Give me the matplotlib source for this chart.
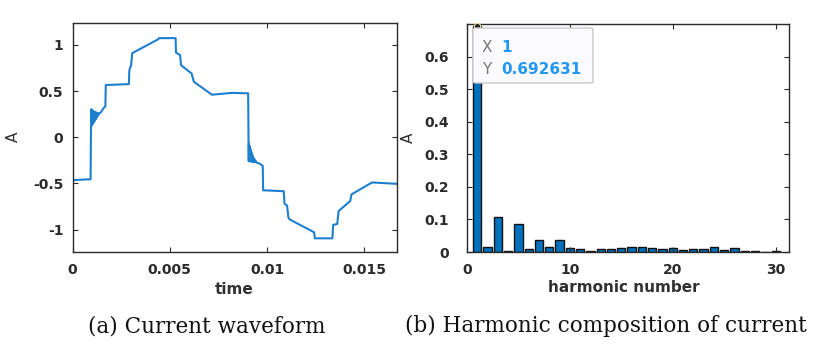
import matplotlib
matplotlib.use("Agg")
import matplotlib.pyplot as plt
from matplotlib.patches import FancyBboxPatch

# ---------------- data ----------------
wave_t = [0.0, 0.00093,
          0.00095, 0.00096, 0.00097, 0.00098, 0.00099, 0.00100, 0.00102, 0.00103,
          0.00105, 0.00106, 0.00108, 0.00109, 0.00111, 0.00112, 0.00114, 0.00115,
          0.00117, 0.00118, 0.00120, 0.00121, 0.00123, 0.00124, 0.00126, 0.00127,
          0.00129, 0.00131, 0.00133, 0.00136, 0.00146, 0.00158, 0.00169, 0.00171,
          0.00290, 0.00292, 0.00297, 0.00301, 0.00307, 0.00440, 0.00445, 0.00530,
          0.00532, 0.00553, 0.00558, 0.00612, 0.00624, 0.00717, 0.00819, 0.00903,
          0.00905, 0.00906, 0.00907, 0.00908, 0.00909, 0.00910, 0.00912, 0.00913,
          0.00915, 0.00916, 0.00918, 0.00919, 0.00921, 0.00922, 0.00924, 0.00926,
          0.00928, 0.00930, 0.00933, 0.00936, 0.00940, 0.00945, 0.00960, 0.00972,
          0.00978, 0.00980, 0.01086, 0.01090, 0.01103, 0.01110, 0.01116, 0.01242,
          0.01246, 0.01336, 0.01340, 0.01361, 0.01368, 0.01428, 0.01434, 0.01540,
          0.01667]
wave_y = [-0.465, -0.455,
          0.11, 0.30, 0.12, 0.30, 0.13, 0.29, 0.14, 0.29,
          0.15, 0.28, 0.16, 0.28, 0.17, 0.275, 0.18, 0.27,
          0.19, 0.27, 0.20, 0.265, 0.21, 0.265, 0.22, 0.26,
          0.23, 0.26, 0.24, 0.255, 0.27, 0.31, 0.335, 0.565,
          0.575, 0.72, 0.76, 0.77, 0.91, 1.06, 1.073, 1.073,
          0.915, 0.89, 0.78, 0.69, 0.60, 0.46, 0.48, 0.475,
          -0.05, -0.26, -0.07, -0.26, -0.09, -0.26, -0.11, -0.26,
          -0.13, -0.26, -0.15, -0.26, -0.17, -0.265, -0.19, -0.265,
          -0.21, -0.27, -0.23, -0.27, -0.25, -0.275, -0.285, -0.30,
          -0.31, -0.575, -0.585, -0.72, -0.74, -0.87, -0.89, -1.03,
          -1.095, -1.095, -0.95, -0.94, -0.80, -0.69, -0.62, -0.49,
          -0.505]

harm_n = list(range(1, 31))
harm_amp = [0.692631, 0.015, 0.107, 0.003, 0.085, 0.010, 0.037, 0.015, 0.037, 0.012,
            0.010, 0.003, 0.010, 0.010, 0.013, 0.015, 0.015, 0.012, 0.010, 0.011,
            0.006, 0.009, 0.009, 0.014, 0.007, 0.011, 0.002, 0.003, 0.001, 0.004]

x1_ticks = [0, 0.005, 0.01, 0.015]
x1_labels = ["0", "0.005", "0.01", "0.015"]
y1_ticks = [-1, -0.5, 0, 0.5, 1]
y1_labels = ["-1", "-0.5", "0", "0.5", "1"]
x2_ticks = [0, 10, 20, 30]
x2_labels = ["0", "10", "20", "30"]
y2_ticks = [0, 0.1, 0.2, 0.3, 0.4, 0.5, 0.6]
y2_labels = ["0", "0.1", "0.2", "0.3", "0.4", "0.5", "0.6"]

tip_x = 1
tip_y = 0.692631

# ---------------- figure ----------------
W, H = 830, 357
fig = plt.figure(figsize=(W / 100, H / 100), dpi=100)
fig.patch.set_facecolor("white")

SP = "#2b2b2b"
TXT = "#303030"
tick_font = dict(family="DejaVu Sans", weight="bold", size=10, color=TXT)


def px_axes(l, t, r, b):
    return fig.add_axes([l / W, 1 - b / H, (r - l) / W, (b - t) / H])


def style(ax, xpad, ypad):
    for s in ax.spines.values():
        s.set_color(SP)
        s.set_linewidth(1.0)
    ax.tick_params(direction="in", top=True, right=True, length=3.5, width=0.8,
                   colors=SP)
    ax.tick_params(axis="x", pad=xpad)
    ax.tick_params(axis="y", pad=ypad)


ax1 = px_axes(72.5, 22.7, 396.7, 251.7)
ax1.plot(wave_t, wave_y, color="#1f7fcf", lw=1.5, solid_joinstyle="round")
ax1.set_xlim(0, 1 / 60)
ax1.set_ylim(-1.24, 1.24)
ax1.set_xticks(x1_ticks)
ax1.set_xticklabels(x1_labels, **tick_font)
ax1.set_yticks(y1_ticks)
ax1.set_yticklabels(y1_labels, **tick_font)
style(ax1, 8, 6.5)
ax1.set_xlabel("time", family="DejaVu Sans", weight="bold", size=11, color=TXT, va="center")
ax1.xaxis.set_label_coords((234 - 72.5) / 324.2, -(289 - 251.7) / 229)
ax1.set_ylabel("A", family="DejaVu Sans", size=11, color=TXT, va="center")
ax1.yaxis.set_label_coords((13 - 72.5) / 324.2, 0.5)

ax2 = px_axes(467, 24, 789, 252)
ax2.bar(harm_n, harm_amp, width=0.8, color="#0072BD", edgecolor="#111111", linewidth=1.0)
ax2.set_xlim(0.72, 31.3)
ax2.set_ylim(0, 0.7)
ax2.set_xticks(x2_ticks)
ax2.set_xticklabels(x2_labels, **tick_font)
ax2.set_yticks(y2_ticks)
ax2.set_yticklabels(y2_labels, **tick_font)
style(ax2, 8, 13)
ax2.set_xlabel("harmonic number", family="DejaVu Sans", weight="bold", size=11, color=TXT,
               va="center")
ax2.xaxis.set_label_coords((624 - 467) / 322, -(287 - 252) / 228)
ax2.set_ylabel("A", family="DejaVu Sans", size=11, color=TXT, va="center")
ax2.yaxis.set_label_coords((408 - 467) / 322, 0.5)

# data tip
ax2.plot([tip_x], [tip_y], "o", ms=4.5, mfc="#222222", mec="#e8e0a0", mew=0.8,
         clip_on=False, zorder=5)
box = FancyBboxPatch((473 / W, 1 - 83 / H), (593 - 473) / W, (83 - 28) / H,
                     boxstyle="round,pad=0,rounding_size=0.004",
                     transform=fig.transFigure, facecolor="#fbfbff",
                     edgecolor="#c8c8cc", linewidth=1.0, zorder=10)
fig.patches.append(box)
fig.text(482 / W, 1 - 48 / H, "X", family="DejaVu Sans", size=11, color="#777777",
         va="center", ha="left", zorder=11)
fig.text(501 / W, 1 - 48 / H, "1", family="DejaVu Sans", weight="bold", size=11,
         color="#2196f3", va="center", ha="left", zorder=11)
fig.text(482 / W, 1 - 69 / H, "Y", family="DejaVu Sans", size=11, color="#777777",
         va="center", ha="left", zorder=11)
fig.text(501 / W, 1 - 69 / H, "0.692631", family="DejaVu Sans", weight="bold", size=11,
         color="#2196f3", va="center", ha="left", zorder=11)

# captions
cap_font = dict(family="DejaVu Serif", size=15.5, color="#111111", va="center", ha="center")
fig.text(207 / W, 1 - 326 / H, "(a) Current waveform", **cap_font)
fig.text(606 / W, 1 - 326 / H, "(b) Harmonic composition of current", **cap_font)

fig.savefig("out.png", dpi=100, facecolor="white")
